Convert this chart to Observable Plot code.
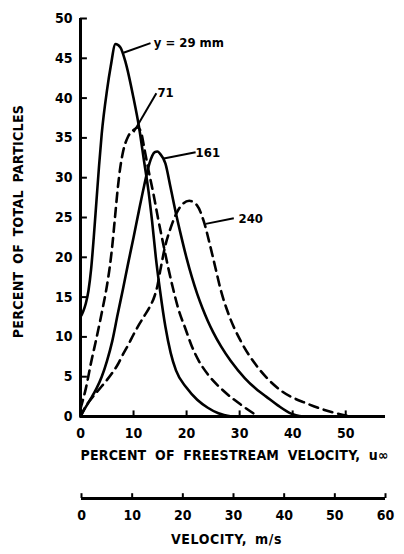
<!DOCTYPE html>
<html>
<head>
<meta charset="utf-8">
<script src="https://cdn.jsdelivr.net/npm/d3@7"></script>
<script src="https://cdn.jsdelivr.net/npm/@observablehq/plot@0.6"></script>
<style>
  html, body { margin: 0; padding: 0; background: #fff; }
  #chart svg { display: block; }
</style>
</head>
<body>
<div id="chart"></div>
<script>
// ---- Data ----
const x29 = [0, 0.5, 1, 1.5, 2, 2.5, 3, 3.5, 4, 5, 5.7, 6.6, 7.5, 8.5, 10, 11, 12, 12.8, 13.5, 14.2, 15, 16, 17, 18, 20, 22, 24, 26, 28.5];
const y29 = [12.5, 13.2, 14.2, 15.8, 18.5, 22.5, 27, 31.5, 35.5, 41, 44, 46.8, 46.4, 44.5, 40, 36.5, 32, 28.4, 24.5, 20, 15.8, 11.3, 8, 5.8, 3.6, 2.1, 1.1, 0.4, 0];

const x71 = [0, 1, 2, 3, 4, 5, 5.5, 6, 6.5, 7, 7.5, 8, 9, 10, 10.8, 11.5, 12, 12.8, 13.8, 14.5, 15.5, 16.5, 17.4, 18.5, 19.8, 21, 22.3, 24, 27, 30.2, 33.5];
const y71 = [1, 3.5, 6.8, 9.8, 13, 16.5, 18.7, 21.5, 25, 28.5, 31.3, 33.2, 35.2, 36, 36.3, 35.5, 33.8, 31, 27.8, 25.3, 22, 18.8, 16.2, 13.4, 11, 8.8, 7, 5.3, 3.2, 1.5, 0];

const x161 = [0, 1, 2, 3, 4, 5, 6, 7, 8, 9, 10, 11, 12, 13, 14, 14.5, 15, 16, 17, 18, 19, 20, 21, 22, 23, 24, 25, 26.5, 28.3, 31, 33.4, 35, 37.2, 39.6, 42];
const y161 = [0, 1.2, 2.3, 3.5, 5, 7, 9.5, 12.8, 16, 19.3, 22.5, 25.8, 29, 31.8, 33.2, 33.3, 33, 31.8, 28.7, 25.5, 22.6, 19.9, 17.5, 15.4, 13.6, 12, 10.6, 8.8, 7, 4.8, 3.3, 2.5, 1.4, 0.4, 0];

const x240 = [0, 1, 2, 3, 4, 5, 6, 7, 8, 9, 10, 11, 12, 13, 14, 14.5, 15, 16, 17, 18, 19, 20.5, 22, 23.2, 24.5, 25.5, 26.4, 28, 30.2, 33.4, 37.7, 42.8, 47.7, 51];
const y240 = [0, 1.3, 2.2, 3, 3.8, 4.6, 5.5, 6.5, 7.8, 9, 10.3, 11.5, 12.6, 13.7, 15.2, 16.4, 18.2, 21.5, 23.7, 25.4, 26.5, 27.1, 26.5, 24.6, 21.3, 18.5, 16, 12.7, 9.5, 6.2, 3.3, 1.6, 0.5, 0];

const seriesNames = ["29", "71", "161", "240"];
const seriesDashed = [false, true, false, true];

// curve labels: text, anchor x, anchor y, leader start (x,y) and end (x,y)
const labelText = ["y = 29 mm", "71", "161", "240"];
const labelX = [13.8, 14.5, 21.7, 29.8];
const labelY = [46.9, 40.7, 33.1, 24.8];
const leaderX1 = [8.1, 10, 15.7, 23.6];
const leaderY1 = [45.7, 35.7, 32.4, 24.2];
const leaderX2 = [13.2, 14.3, 21.7, 28.9];
const leaderY2 = [46.9, 40.6, 33.2, 24.9];

const xTicks = [0, 10, 20, 30, 40, 50];
const yTicks = [0, 5, 10, 15, 20, 25, 30, 35, 40, 45, 50];
const msTicks = [0, 10, 20, 30, 40, 50, 60];

const xTitle = "PERCENT OF FREESTREAM VELOCITY, u\u221E";
const yTitle = "PERCENT OF TOTAL PARTICLES";
const msTitle = "VELOCITY, m/s";

// ---- build tables ----
const xs = [x29, x71, x161, x240];
const ys = [y29, y71, y161, y240];
const pts = [];
xs.forEach((xa, i) => xa.forEach((x, j) => pts.push({s: seriesNames[i], dashed: seriesDashed[i], x, y: ys[i][j]})));
const solidPts = pts.filter(d => !d.dashed);
const dashedPts = pts.filter(d => d.dashed);
const labels = labelText.map((t, i) => ({t, x: labelX[i], y: labelY[i]}));
const leaders = labelText.map((t, i) => ({x1: leaderX1[i], y1: leaderY1[i], x2: leaderX2[i], y2: leaderY2[i]}));

const FONT = "'DejaVu Sans Condensed', 'DejaVu Sans', sans-serif";
const SW = 2.6;

const main = Plot.plot({
  width: 404,
  height: 470,
  marginLeft: 80,
  marginRight: 19,
  marginTop: 18,
  marginBottom: 54,
  style: {fontFamily: FONT, fontWeight: "bold", fontSize: "14px", color: "#000", background: "#fff"},
  x: {domain: [0, 57.5]},
  y: {domain: [0, 50]},
  marks: [
    Plot.axisX({ticks: xTicks, tickSize: 0, tickPadding: 12, label: null, fontSize: 14, fontWeight: "bold"}),
    Plot.axisY({ticks: yTicks, tickSize: 0, tickPadding: 8, label: null, fontSize: 14, fontWeight: "bold"}),
    // inner tick marks
    Plot.ruleX(xTicks.filter(d => d > 0), {x: d => d, y1: 0, y2: 0.7, stroke: "#000", strokeWidth: 2}),
    Plot.ruleY(yTicks, {y: d => d, x1: 0, x2: 1.3, stroke: "#000", strokeWidth: 2}),
    // axis lines
    Plot.ruleY([0], {stroke: "#000", strokeWidth: 3}),
    Plot.ruleX([0], {stroke: "#000", strokeWidth: 3}),
    // curves
    Plot.line(solidPts, {x: "x", y: "y", z: "s", curve: "monotone-x", stroke: "#000", strokeWidth: SW}),
    Plot.line(dashedPts, {x: "x", y: "y", z: "s", curve: "monotone-x", stroke: "#000", strokeWidth: SW, strokeDasharray: "9,6"}),
    // leaders and labels
    Plot.link(leaders, {x1: "x1", y1: "y1", x2: "x2", y2: "y2", stroke: "#000", strokeWidth: 2}),
    Plot.text(labels, {x: "x", y: "y", text: "t", textAnchor: "start", fontSize: 13, fontWeight: "bold", fill: "#000"}),
    // titles
    Plot.text([xTitle], {frameAnchor: "bottom-left", dy: 43, textAnchor: "start", fontSize: 14, fontWeight: "bold", fill: "#000"}),
    Plot.text([yTitle], {frameAnchor: "left", dx: -62, dy: 4, rotate: -90, textAnchor: "middle", fontSize: 14, fontWeight: "bold", fill: "#000"})
  ]
});

const ms = Plot.plot({
  width: 404,
  height: 84,
  marginLeft: 81,
  marginRight: 19,
  marginTop: 20,
  marginBottom: 56,
  style: {fontFamily: FONT, fontWeight: "bold", fontSize: "14px", color: "#000", background: "#fff"},
  x: {domain: [0, 60]},
  y: {domain: [0, 1], axis: null},
  marks: [
    Plot.axisX({ticks: msTicks, tickSize: 0, tickPadding: 12, label: null, fontSize: 14, fontWeight: "bold"}),
    Plot.ruleX(msTicks, {x: d => d, y1: 0, y2: 0.6, stroke: "#000", strokeWidth: 2}),
    Plot.ruleY([0], {stroke: "#000", strokeWidth: 3}),
    Plot.text([msTitle], {frameAnchor: "bottom", dx: -7, dy: 45, textAnchor: "middle", fontSize: 14, fontWeight: "bold", fill: "#000"})
  ]
});

document.getElementById("chart").append(main, ms);

// widen the spacing of the axis titles a little, as in the reference lettering
const spacing = new Map([[xTitle, ["0.2px", "4px"]], [yTitle, ["0.3px", "3px"]], [msTitle, ["0.6px", "3px"]]]);
d3.selectAll("#chart text").each(function () {
  const t = this.textContent;
  if (spacing.has(t)) {
    const [ls, ws] = spacing.get(t);
    d3.select(this).style("letter-spacing", ls).style("word-spacing", ws);
  }
});
</script>
</body>
</html>
